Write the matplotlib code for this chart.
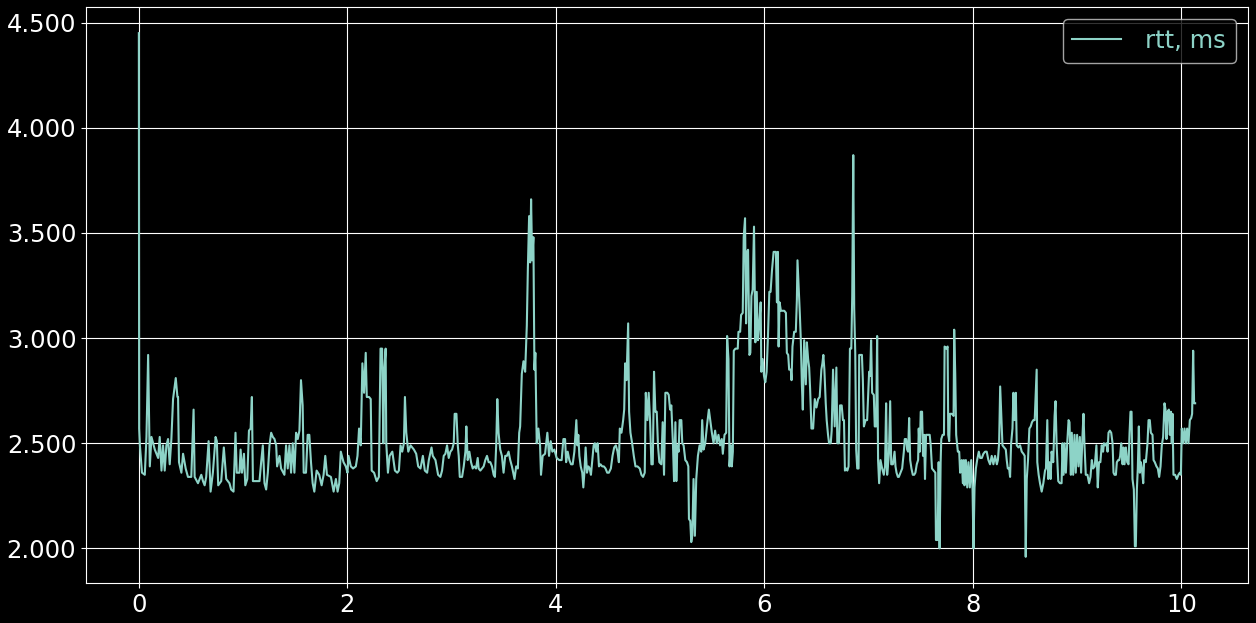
import numpy as np
import matplotlib
matplotlib.use("Agg")
import matplotlib.pyplot as plt
from matplotlib.ticker import FormatStrFormatter

# rtt samples (time, rtt in ms), one list per second of the run
sec0 = [(0.0, 4.45), (0.003, 2.57), (0.01, 2.49), (0.03, 2.36), (0.057, 2.35), (0.073, 2.53),
        (0.089, 2.92), (0.105, 2.39), (0.121, 2.53), (0.153, 2.47), (0.185, 2.43), (0.2, 2.53),
        (0.217, 2.37), (0.232, 2.49), (0.248, 2.37), (0.264, 2.49), (0.28, 2.52), (0.296, 2.4),
        (0.312, 2.52), (0.328, 2.71), (0.354, 2.81), (0.37, 2.72), (0.376, 2.72), (0.385, 2.41),
        (0.408, 2.36), (0.424, 2.45), (0.449, 2.38), (0.471, 2.34), (0.503, 2.34), (0.525, 2.66),
        (0.535, 2.34), (0.567, 2.31), (0.599, 2.35), (0.615, 2.32), (0.631, 2.30), (0.646, 2.34),
        (0.669, 2.51), (0.688, 2.27), (0.71, 2.36), (0.736, 2.53), (0.748, 2.51), (0.761, 2.30),
        (0.79, 2.32), (0.815, 2.48), (0.838, 2.33), (0.869, 2.31), (0.885, 2.28), (0.908, 2.27),
        (0.927, 2.55), (0.939, 2.36), (0.965, 2.36)]
sec1 = [(0.976, 2.47), (0.989, 2.36), (1.008, 2.45), (1.021, 2.30), (1.04, 2.33), (1.056, 2.56),
        (1.072, 2.57), (1.084, 2.72), (1.094, 2.32), (1.126, 2.32), (1.157, 2.32), (1.173, 2.41),
        (1.189, 2.49), (1.205, 2.31), (1.221, 2.28), (1.237, 2.36), (1.253, 2.49), (1.269, 2.55),
        (1.285, 2.53), (1.301, 2.52), (1.317, 2.49), (1.326, 2.39), (1.349, 2.44), (1.364, 2.38),
        (1.396, 2.35), (1.412, 2.49), (1.428, 2.38), (1.444, 2.49), (1.46, 2.36), (1.476, 2.5),
        (1.492, 2.36), (1.508, 2.55), (1.524, 2.52), (1.54, 2.56), (1.555, 2.80), (1.571, 2.68),
        (1.581, 2.36), (1.603, 2.36), (1.619, 2.54), (1.635, 2.54), (1.651, 2.41), (1.667, 2.31),
        (1.683, 2.27), (1.705, 2.37), (1.73, 2.35), (1.753, 2.30), (1.772, 2.35), (1.788, 2.44),
        (1.804, 2.35), (1.842, 2.34), (1.868, 2.27), (1.89, 2.33), (1.906, 2.27), (1.922, 2.31),
        (1.937, 2.46), (1.963, 2.41), (1.985, 2.39), (2.001, 2.36)]
sec2 = [(2.011, 2.44), (2.033, 2.39), (2.055, 2.38), (2.081, 2.39), (2.097, 2.44), (2.112, 2.57),
        (2.128, 2.49), (2.144, 2.88), (2.16, 2.74), (2.176, 2.93), (2.186, 2.72), (2.208, 2.72),
        (2.224, 2.71), (2.233, 2.37), (2.256, 2.36), (2.281, 2.32), (2.302, 2.34), (2.318, 2.95),
        (2.333, 2.95), (2.345, 2.50), (2.354, 2.85), (2.367, 2.95), (2.373, 2.50), (2.389, 2.36),
        (2.405, 2.44), (2.431, 2.46), (2.456, 2.37), (2.479, 2.36), (2.494, 2.37), (2.51, 2.49),
        (2.526, 2.46), (2.542, 2.50), (2.552, 2.72), (2.565, 2.55), (2.584, 2.46), (2.606, 2.49),
        (2.638, 2.47), (2.66, 2.45), (2.679, 2.39), (2.701, 2.38), (2.724, 2.44), (2.743, 2.37),
        (2.765, 2.36), (2.781, 2.42), (2.807, 2.48), (2.819, 2.44), (2.845, 2.42), (2.87, 2.35),
        (2.892, 2.34), (2.908, 2.37), (2.924, 2.44), (2.94, 2.45), (2.956, 2.49), (2.972, 2.43),
        (2.988, 2.46), (3.004, 2.47), (3.02, 2.50), (3.029, 2.64)]
sec3 = [(3.046, 2.64), (3.059, 2.49), (3.068, 2.44), (3.078, 2.34), (3.1, 2.34), (3.116, 2.39),
        (3.132, 2.46), (3.141, 2.58), (3.154, 2.42), (3.17, 2.46), (3.186, 2.41), (3.202, 2.38),
        (3.218, 2.39), (3.234, 2.38), (3.25, 2.43), (3.259, 2.38), (3.275, 2.37), (3.291, 2.38),
        (3.307, 2.39), (3.323, 2.42), (3.339, 2.44), (3.355, 2.41), (3.371, 2.41), (3.387, 2.39),
        (3.403, 2.35), (3.415, 2.34), (3.428, 2.50), (3.438, 2.71), (3.45, 2.55), (3.466, 2.47),
        (3.482, 2.44), (3.498, 2.36), (3.514, 2.44), (3.53, 2.44), (3.546, 2.46), (3.562, 2.42),
        (3.578, 2.39), (3.594, 2.35), (3.603, 2.33), (3.619, 2.39), (3.635, 2.38), (3.648, 2.55),
        (3.657, 2.58), (3.673, 2.83), (3.689, 2.89), (3.705, 2.84), (3.721, 3.06), (3.731, 3.33),
        (3.743, 3.58), (3.753, 3.36), (3.762, 3.66), (3.772, 3.37), (3.784, 3.48), (3.794, 2.85),
        (3.803, 2.93), (3.816, 2.50), (3.832, 2.57), (3.848, 2.49), (3.857, 2.35), (3.873, 2.44),
        (3.896, 2.45), (3.918, 2.55), (3.934, 2.44), (3.95, 2.51), (3.966, 2.46), (3.985, 2.47),
        (4.007, 2.43), (4.032, 2.42), (4.055, 2.42)]
sec4 = [(4.072, 2.52), (4.088, 2.52), (4.098, 2.41), (4.113, 2.46), (4.129, 2.42), (4.145, 2.40),
        (4.161, 2.40), (4.177, 2.46), (4.187, 2.54), (4.196, 2.61), (4.206, 2.49), (4.215, 2.54),
        (4.225, 2.44), (4.238, 2.39), (4.253, 2.36), (4.263, 2.29), (4.273, 2.36), (4.285, 2.48),
        (4.298, 2.36), (4.311, 2.39), (4.324, 2.38), (4.336, 2.35), (4.349, 2.42), (4.362, 2.49),
        (4.374, 2.50), (4.387, 2.46), (4.4, 2.50), (4.413, 2.39), (4.428, 2.40), (4.444, 2.39),
        (4.46, 2.39), (4.476, 2.38), (4.492, 2.36), (4.508, 2.36), (4.527, 2.38), (4.543, 2.44),
        (4.559, 2.48), (4.575, 2.49), (4.591, 2.46), (4.604, 2.41), (4.613, 2.57), (4.629, 2.55),
        (4.645, 2.61), (4.655, 2.66), (4.664, 2.88), (4.677, 2.80), (4.693, 3.07), (4.702, 2.65),
        (4.715, 2.55), (4.731, 2.50), (4.747, 2.44), (4.763, 2.39), (4.782, 2.39), (4.804, 2.38),
        (4.82, 2.35), (4.836, 2.34), (4.852, 2.36), (4.862, 2.74), (4.878, 2.61), (4.89, 2.74),
        (4.903, 2.61), (4.916, 2.40), (4.929, 2.40), (4.941, 2.84), (4.954, 2.65), (4.967, 2.65),
        (4.979, 2.49), (4.992, 2.41), (5.011, 2.40), (5.024, 2.60), (5.037, 2.35), (5.05, 2.74),
        (5.069, 2.74), (5.082, 2.73), (5.095, 2.66), (5.107, 2.68)]
sec5 = [(5.123, 2.49), (5.133, 2.32), (5.146, 2.60), (5.155, 2.32), (5.165, 2.49), (5.177, 2.46),
        (5.187, 2.61), (5.203, 2.61), (5.212, 2.50), (5.225, 2.49), (5.241, 2.42), (5.257, 2.41),
        (5.27, 2.39), (5.276, 2.14), (5.289, 2.13), (5.298, 2.03), (5.308, 2.06), (5.32, 2.33),
        (5.333, 2.06), (5.346, 2.33), (5.362, 2.44), (5.378, 2.49), (5.394, 2.46), (5.403, 2.61),
        (5.416, 2.47), (5.432, 2.50), (5.448, 2.58), (5.467, 2.66), (5.48, 2.61), (5.496, 2.55),
        (5.512, 2.50), (5.527, 2.56), (5.543, 2.50), (5.559, 2.54), (5.575, 2.49), (5.591, 2.52),
        (5.601, 2.45), (5.617, 2.54), (5.633, 2.55), (5.642, 3.01), (5.655, 2.90), (5.665, 2.39),
        (5.678, 2.49), (5.687, 2.39), (5.697, 2.46), (5.706, 2.94), (5.722, 2.95), (5.744, 2.95),
        (5.751, 3.03), (5.767, 3.03), (5.776, 3.11), (5.792, 3.12), (5.801, 3.48), (5.814, 3.57),
        (5.824, 3.07), (5.833, 3.41), (5.843, 3.42), (5.856, 2.92), (5.865, 2.93), (5.875, 3.20),
        (5.887, 3.23), (5.9, 3.53), (5.913, 2.98), (5.926, 3.22), (5.938, 2.99), (5.951, 3.07),
        (5.964, 3.17), (5.97, 2.84), (5.983, 2.90), (5.996, 2.82), (6.008, 2.79), (6.021, 2.84),
        (6.034, 3.01), (6.047, 3.22), (6.059, 3.22), (6.072, 3.32), (6.088, 3.41), (6.104, 3.41),
        (6.11, 3.41), (6.12, 3.17), (6.129, 3.41), (6.136, 2.96)]
sec6 = [(6.145, 3.17), (6.158, 3.13), (6.174, 3.13), (6.19, 3.13), (6.206, 3.12), (6.215, 2.93),
        (6.228, 2.92), (6.237, 2.85), (6.253, 2.85), (6.26, 2.80), (6.269, 2.96), (6.285, 3.03),
        (6.301, 3.03), (6.311, 3.18), (6.317, 3.37), (6.327, 3.26), (6.34, 3.11), (6.349, 2.99),
        (6.359, 2.78), (6.368, 2.66), (6.381, 2.99), (6.397, 2.78), (6.407, 2.98), (6.419, 2.90),
        (6.429, 2.86), (6.438, 2.76), (6.451, 2.57), (6.467, 2.57), (6.483, 2.71), (6.499, 2.67),
        (6.515, 2.71), (6.53, 2.72), (6.546, 2.85), (6.556, 2.88), (6.565, 2.92), (6.575, 2.85),
        (6.588, 2.69), (6.597, 2.61), (6.61, 2.54), (6.62, 2.50), (6.636, 2.50), (6.645, 2.56),
        (6.658, 2.85), (6.674, 2.58), (6.69, 2.86), (6.699, 2.50), (6.715, 2.50), (6.725, 2.68),
        (6.741, 2.68), (6.753, 2.61), (6.763, 2.61), (6.772, 2.37), (6.785, 2.38), (6.795, 2.37),
        (6.807, 2.39), (6.82, 2.95), (6.833, 2.95), (6.842, 3.20), (6.852, 3.87), (6.861, 3.14),
        (6.871, 2.93), (6.88, 2.47), (6.89, 2.38), (6.903, 2.38), (6.909, 2.92), (6.922, 2.92),
        (6.935, 2.92), (6.944, 2.80), (6.954, 2.58), (6.97, 2.61), (6.985, 2.61), (6.995, 2.73),
        (7.004, 2.84), (7.014, 2.82), (7.023, 2.99), (7.033, 2.74), (7.049, 2.73), (7.058, 2.58),
        (7.071, 2.58), (7.081, 3.01), (7.09, 2.42), (7.1, 2.31), (7.113, 2.42), (7.129, 2.38),
        (7.145, 2.35), (7.157, 2.39), (7.167, 2.69), (7.177, 2.35)]
sec7 = [(7.194, 2.45), (7.206, 2.70), (7.216, 2.40), (7.232, 2.40), (7.248, 2.46), (7.257, 2.39),
        (7.267, 2.36), (7.28, 2.34), (7.289, 2.34), (7.305, 2.36), (7.321, 2.38), (7.337, 2.46),
        (7.346, 2.52), (7.359, 2.52), (7.369, 2.47), (7.378, 2.46), (7.388, 2.62), (7.398, 2.42),
        (7.41, 2.38), (7.423, 2.35), (7.436, 2.35), (7.448, 2.36), (7.461, 2.40), (7.474, 2.42),
        (7.48, 2.57), (7.49, 2.46), (7.499, 2.65), (7.512, 2.65), (7.521, 2.44), (7.531, 2.54),
        (7.54, 2.33), (7.55, 2.54), (7.563, 2.54), (7.576, 2.54), (7.585, 2.54), (7.595, 2.49),
        (7.607, 2.38), (7.623, 2.37), (7.639, 2.36), (7.645, 2.04), (7.661, 2.04), (7.671, 2.41),
        (7.68, 2.00), (7.69, 2.41), (7.696, 2.52), (7.709, 2.54), (7.722, 2.54), (7.728, 2.96),
        (7.744, 2.95), (7.757, 2.96), (7.763, 2.54), (7.772, 2.51), (7.779, 2.64), (7.798, 2.64),
        (7.814, 2.63), (7.82, 3.04), (7.83, 2.83), (7.839, 2.54), (7.855, 2.46), (7.868, 2.46),
        (7.877, 2.36), (7.887, 2.38), (7.893, 2.42), (7.903, 2.31), (7.913, 2.42), (7.919, 2.30),
        (7.932, 2.42), (7.945, 2.29), (7.957, 2.41), (7.97, 2.29), (7.983, 2.42), (7.996, 2.28),
        (8.005, 2.00), (8.015, 2.29), (8.028, 2.38), (8.04, 2.42), (8.056, 2.46), (8.069, 2.43),
        (8.085, 2.43), (8.1, 2.45), (8.116, 2.46), (8.132, 2.46), (8.148, 2.42), (8.164, 2.40),
        (8.18, 2.44), (8.196, 2.40), (8.212, 2.44)]
sec8 = [(8.229, 2.40), (8.239, 2.42), (8.251, 2.50), (8.261, 2.77), (8.27, 2.65), (8.283, 2.49),
        (8.299, 2.48), (8.315, 2.47), (8.324, 2.42), (8.334, 2.38), (8.347, 2.38), (8.356, 2.34),
        (8.366, 2.50), (8.379, 2.57), (8.388, 2.74), (8.398, 2.61), (8.411, 2.74), (8.42, 2.49),
        (8.436, 2.48), (8.452, 2.49), (8.468, 2.46), (8.484, 2.45), (8.496, 2.44), (8.506, 1.96),
        (8.516, 2.33), (8.528, 2.42), (8.541, 2.57), (8.554, 2.58), (8.566, 2.60), (8.579, 2.61),
        (8.592, 2.61), (8.601, 2.73), (8.611, 2.85), (8.617, 2.41), (8.63, 2.35), (8.643, 2.31),
        (8.659, 2.27), (8.675, 2.31), (8.691, 2.37), (8.7, 2.38), (8.713, 2.61), (8.722, 2.33),
        (8.732, 2.41), (8.745, 2.33), (8.754, 2.46), (8.77, 2.41), (8.783, 2.63), (8.792, 2.70),
        (8.802, 2.50), (8.818, 2.32), (8.834, 2.31), (8.85, 2.31), (8.859, 2.50), (8.869, 2.35),
        (8.879, 2.50), (8.891, 2.36), (8.904, 2.50), (8.917, 2.61), (8.926, 2.60), (8.939, 2.35),
        (8.948, 2.55), (8.961, 2.35), (8.974, 2.54), (8.986, 2.36), (8.999, 2.54), (9.012, 2.39),
        (9.025, 2.53), (9.037, 2.36), (9.05, 2.53), (9.06, 2.64), (9.069, 2.50), (9.082, 2.35),
        (9.098, 2.35), (9.114, 2.31), (9.127, 2.34), (9.14, 2.42), (9.152, 2.38), (9.168, 2.39),
        (9.184, 2.49), (9.197, 2.29), (9.209, 2.41), (9.222, 2.41), (9.235, 2.49), (9.248, 2.46)]
sec9 = [(9.256, 2.50), (9.268, 2.49), (9.281, 2.50), (9.291, 2.46), (9.3, 2.55), (9.313, 2.56),
        (9.326, 2.55), (9.339, 2.50), (9.348, 2.36), (9.358, 2.35), (9.371, 2.35), (9.38, 2.41),
        (9.393, 2.42), (9.403, 2.42), (9.412, 2.44), (9.422, 2.50), (9.435, 2.40), (9.444, 2.48),
        (9.454, 2.40), (9.467, 2.48), (9.479, 2.41), (9.492, 2.40), (9.502, 2.55), (9.511, 2.65),
        (9.521, 2.65), (9.53, 2.33), (9.543, 2.28), (9.553, 2.01), (9.562, 2.01), (9.572, 2.28),
        (9.581, 2.38), (9.591, 2.58), (9.601, 2.36), (9.61, 2.41), (9.62, 2.38), (9.633, 2.31),
        (9.642, 2.42), (9.658, 2.41), (9.674, 2.50), (9.684, 2.61), (9.696, 2.61), (9.706, 2.55),
        (9.722, 2.54), (9.732, 2.42), (9.744, 2.41), (9.76, 2.39), (9.773, 2.38), (9.786, 2.34),
        (9.799, 2.39), (9.811, 2.49), (9.824, 2.53), (9.837, 2.69), (9.847, 2.66), (9.856, 2.52),
        (9.866, 2.65), (9.879, 2.66), (9.888, 2.54), (9.898, 2.65), (9.907, 2.50), (9.914, 2.64),
        (9.923, 2.35), (9.939, 2.35), (9.955, 2.33), (9.971, 2.35), (9.984, 2.36), (9.994, 2.35),
        (10.003, 2.57), (10.016, 2.50), (10.029, 2.57), (10.042, 2.50), (10.054, 2.57), (10.067, 2.50),
        (10.08, 2.61), (10.093, 2.62), (10.102, 2.64), (10.112, 2.94), (10.121, 2.69), (10.131, 2.69)]

samples = np.array(sec0 + sec1 + sec2 + sec3 + sec4 + sec5 + sec6 + sec7 + sec8 + sec9)
t = samples[:, 0]
rtt = samples[:, 1]

plt.style.use('dark_background')
fig, ax = plt.subplots(figsize=(12.56, 6.23), dpi=100)
fig.subplots_adjust(left=0.0685, right=0.9936, top=0.9888, bottom=0.0642)

ax.plot(t, rtt, label='rtt, ms')
ax.yaxis.set_major_formatter(FormatStrFormatter('%.3f'))
ax.tick_params(labelsize=17.5)
ax.grid(True)
ax.legend(loc='upper right', fontsize=17.5, labelcolor='linecolor', handletextpad=1.0)

fig.savefig('out.png', dpi=100)
